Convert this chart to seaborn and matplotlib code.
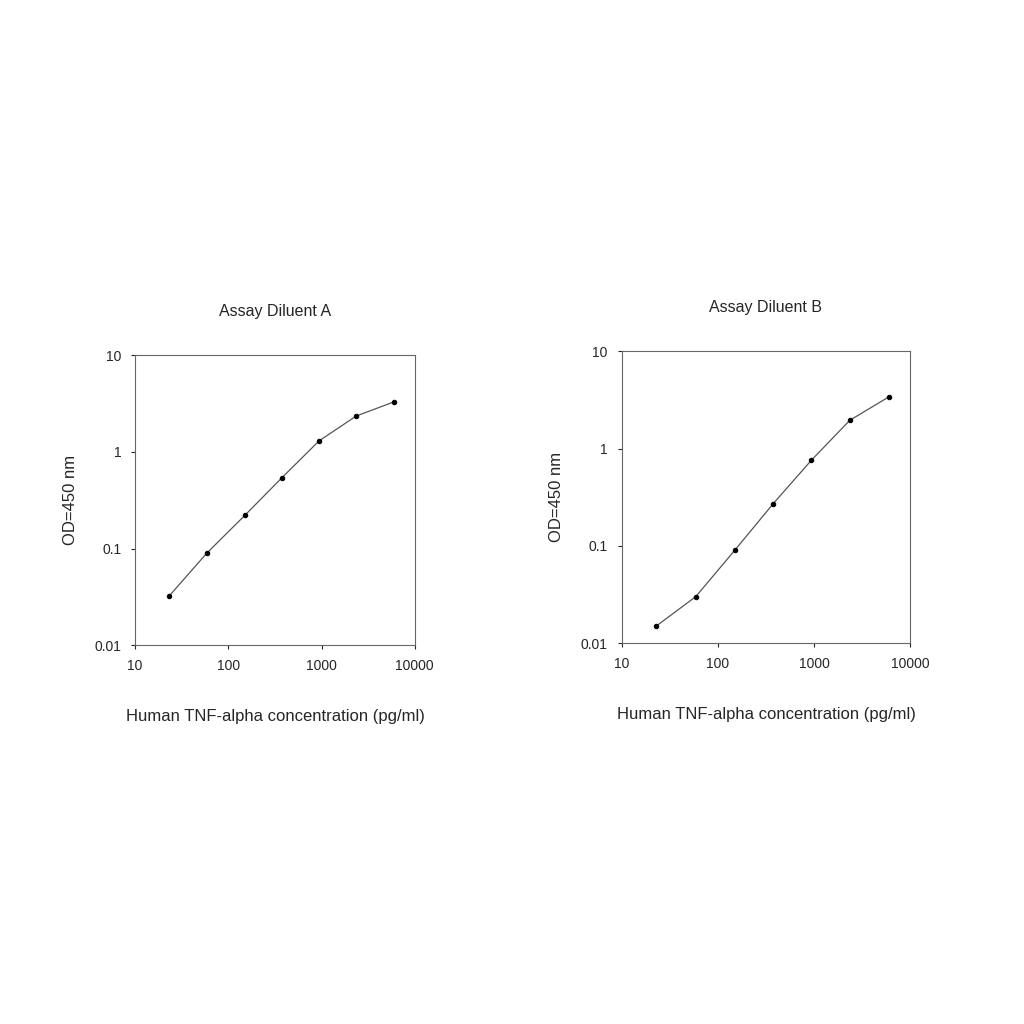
import matplotlib
matplotlib.use("Agg")
import matplotlib.pyplot as plt
import seaborn as sns
import pandas as pd
from matplotlib.ticker import FixedLocator, FixedFormatter, NullLocator

conc = [23, 59, 150, 375, 940, 2350, 6000]
od_a = [0.032, 0.09, 0.22, 0.54, 1.3, 2.35, 3.3]
od_b = [0.015, 0.03, 0.09, 0.27, 0.76, 1.95, 3.4]
titles = ["Assay Diluent A", "Assay Diluent B"]
xticks = [10, 100, 1000, 10000]
xlabels = ["10", "100", "1000", "10000"]
yticks = [0.01, 0.1, 1, 10]
ylabels = ["0.01", "0.1", "1", "10"]

sns.set_style("white")
plt.rcParams['font.family'] = ['Liberation Sans', 'DejaVu Sans']
fig = plt.figure(figsize=(10.24, 10.24), dpi=100)
rects = [[0.132, 0.370, 0.273, 0.283], [0.607, 0.372, 0.282, 0.285]]
for rect, od, title in zip(rects, [od_a, od_b], titles):
    ax = fig.add_axes(rect)
    df = pd.DataFrame({"c": conc, "od": od})
    sns.lineplot(data=df, x="c", y="od", ax=ax, color="#555555", linewidth=0.9,
                 marker="o", markersize=3.2, markerfacecolor="black", markeredgecolor="black")
    ax.set_xscale("log"); ax.set_yscale("log")
    ax.set_xlim(10, 10000); ax.set_ylim(0.01, 10)
    ax.xaxis.set_major_locator(FixedLocator(xticks)); ax.xaxis.set_major_formatter(FixedFormatter(xlabels))
    ax.yaxis.set_major_locator(FixedLocator(yticks)); ax.yaxis.set_major_formatter(FixedFormatter(ylabels))
    ax.xaxis.set_minor_locator(NullLocator()); ax.yaxis.set_minor_locator(NullLocator())
    ax.tick_params(labelsize=10, length=3, direction="out", bottom=True, left=True, pad=7)
    for s in ax.spines.values():
        s.set_color("#666666"); s.set_linewidth(0.8)
    ax.set_title(title, fontsize=11.5, pad=28)
    ax.set_xlabel("Human TNF-alpha concentration (pg/ml)", fontsize=12, labelpad=26)
    ax.set_ylabel("OD=450 nm", fontsize=12, labelpad=12)
fig.savefig("out.png", dpi=100, facecolor="white")
